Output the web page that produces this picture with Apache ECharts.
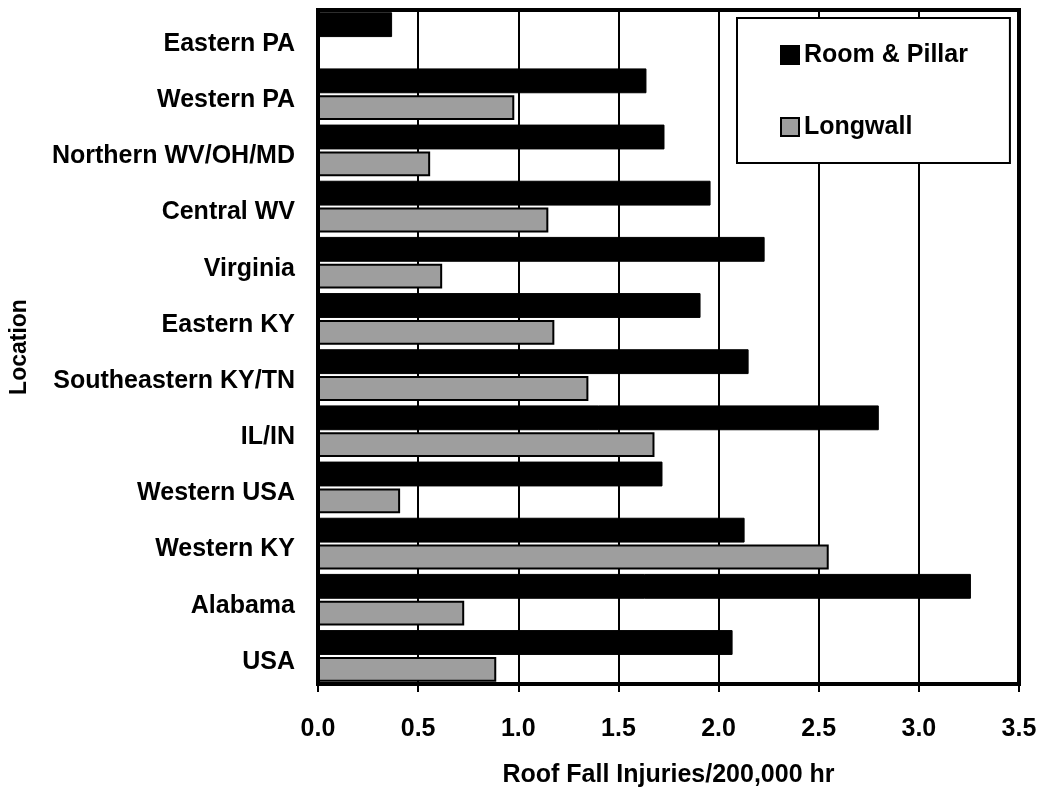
<!DOCTYPE html>
<html>
<head>
<meta charset="utf-8">
<script src="https://cdn.jsdelivr.net/npm/echarts@6/dist/echarts.min.js"></script>
<style>
html,body{margin:0;padding:0;background:#fff;}
#chart{width:1042px;height:793px;}
</style>
</head>
<body>
<div id="chart"></div>
<script>
var categories = ["Eastern PA","Western PA","Northern WV/OH/MD","Central WV","Virginia","Eastern KY","Southeastern KY/TN","IL/IN","Western USA","Western KY","Alabama","USA"];
var roomPillar = [0.37, 1.64, 1.73, 1.96, 2.23, 1.91, 2.15, 2.80, 1.72, 2.13, 3.26, 2.07];
var longwall = [null, 0.98, 0.56, 1.15, 0.62, 1.18, 1.35, 1.68, 0.41, 2.55, 0.73, 0.89];
var xTicks = ["0.0","0.5","1.0","1.5","2.0","2.5","3.0","3.5"];

var FONT = '"Liberation Sans", Arial, sans-serif';
var chart = echarts.init(document.getElementById('chart'), null, {renderer:'canvas'});
chart.setOption({
  backgroundColor: '#fff',
  animation: false,
  textStyle: {fontFamily: FONT},
  grid: {left: 318, right: 23, top: 10, bottom: 108, show: true, borderColor: '#000', borderWidth: 4, backgroundColor: 'transparent'},
  legend: {
    orient: 'vertical',
    left: 737, top: 18,
    width: 240,
    padding: [22, 42, 21, 43],
    borderColor: '#000', borderWidth: 2,
    backgroundColor: '#fff',
    itemWidth: 18, itemHeight: 18, itemGap: 42,
    icon: 'rect',
    textStyle: {fontFamily: FONT, fontWeight: 'bold', fontSize: 25, color: '#000', lineHeight: 24, padding: [6, 0, 0, 0]},
    data: ['Room & Pillar', 'Longwall']
  },
  xAxis: {
    type: 'value', min: 0, max: 3.5, interval: 0.5,
    name: 'Roof Fall Injuries/200,000 hr',
    nameLocation: 'middle', nameGap: 79,
    nameTextStyle: {fontFamily: FONT, fontWeight: 'bold', fontSize: 25, color: '#000'},
    axisLine: {show: true, lineStyle: {color: '#000', width: 4}},
    axisTick: {show: true, length: 8, lineStyle: {color: '#000', width: 2}},
    axisLabel: {margin: 33, fontFamily: FONT, fontWeight: 'bold', fontSize: 25, color: '#000',
      formatter: function (v) { return xTicks[Math.round(v / 0.5)]; }},
    splitLine: {show: true, lineStyle: {color: '#000', width: 2}}
  },
  yAxis: {
    type: 'category', inverse: true, data: categories,
    name: 'Location', nameLocation: 'middle', nameGap: 287, nameRotate: 90,
    nameTextStyle: {fontFamily: FONT, fontWeight: 'bold', fontSize: 23, color: '#000'},
    axisLine: {show: true, lineStyle: {color: '#000', width: 3}},
    axisTick: {show: false},
    axisLabel: {margin: 23, fontFamily: FONT, fontWeight: 'bold', fontSize: 25, color: '#000', verticalAlign: 'top', lineHeight: 12},
    splitLine: {show: false}
  },
  series: [
    {name: 'Room & Pillar', type: 'bar', data: roomPillar, barGap: '8%', barCategoryGap: '8%',
      itemStyle: {color: '#000', borderColor: '#000', borderWidth: 1}},
    {name: 'Longwall', type: 'bar', data: longwall,
      itemStyle: {color: '#9e9e9e', borderColor: '#000', borderWidth: 2}}
  ]
});
</script>
</body>
</html>
